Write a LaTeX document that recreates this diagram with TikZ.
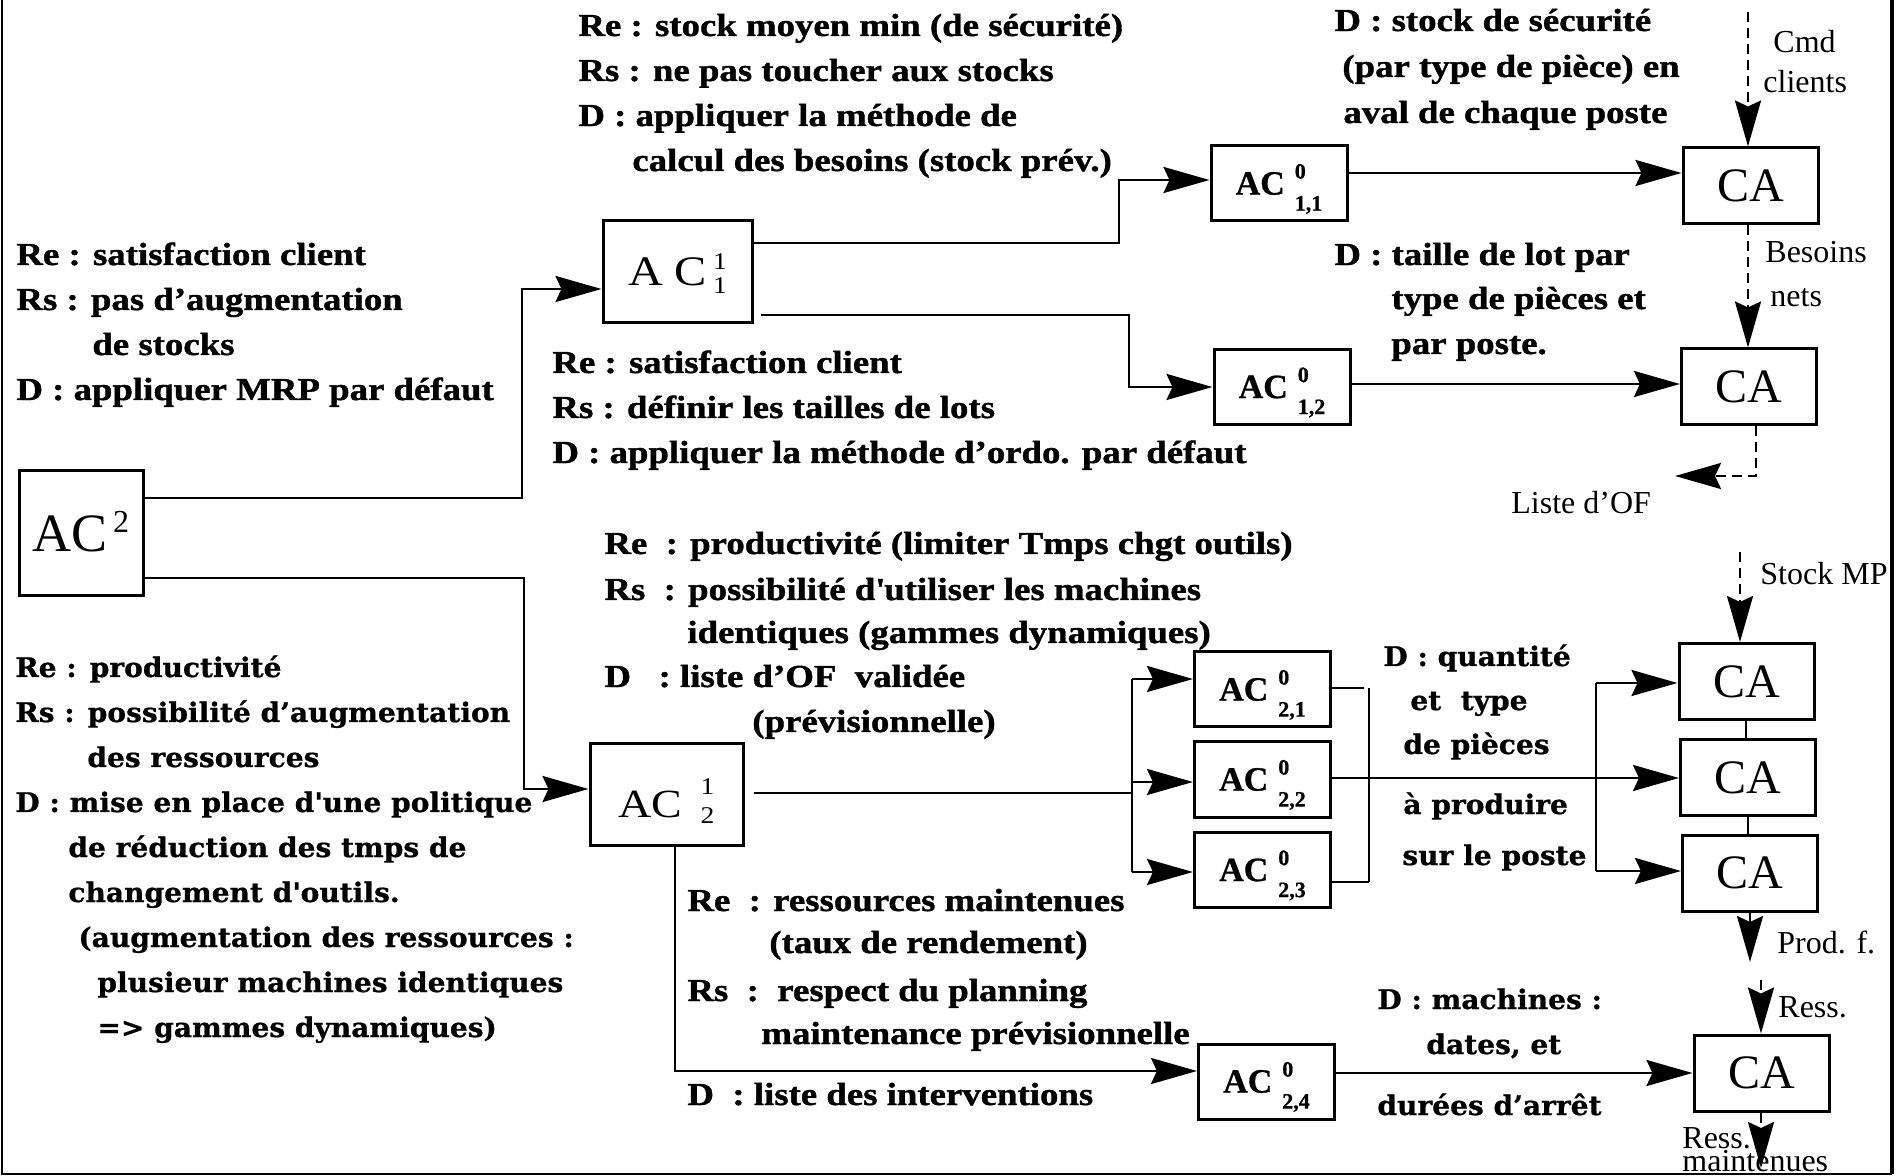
\documentclass[tikz,border=0pt]{standalone}
\usepackage{fontspec}
\setmainfont{Liberation Serif}
\newfontfamily\timesw[FakeStretch=1.15,BoldFeatures={FakeBold=1.2}]{Liberation Serif}
\newfontfamily\schfont[FakeStretch=1.04,BoldFeatures={FakeBold=0.8}]{DejaVu Serif}
\newfontfamily\timesb[BoldFeatures={FakeBold=0.8}]{Liberation Serif}
\usetikzlibrary{arrows.meta}
\newcommand\stk[5]{{\fontsize{#5}{#5}\selectfont\rlap{\raisebox{#3}{#1}}\raisebox{#4}{#2}}}
\newcommand\scr[2]{{\fontsize{11}{11}\selectfont\rlap{\raisebox{8pt}{#1}}\raisebox{-8pt}{#2}}}
\begin{document}
\begin{tikzpicture}[x=0.5pt,y=-0.5pt,
  box/.style={draw, line width=1.5pt, inner sep=0pt, align=center},
  acbox/.style={box, minimum width=68pt, minimum height=37.5pt, font=\timesb\bfseries\fontsize{17}{18}\selectfont},
  cabox/.style={box, minimum width=67.5pt, minimum height=38pt, font=\fontsize{24}{26}\selectfont},
  ln/.style={line width=1.4pt},
  arr/.style={ln, -{Stealth[length=23pt,width=13pt,inset=3pt]}},
  dsh/.style={arr, dash pattern=on 5pt off 3pt},
  tw/.style={anchor=base west, inner sep=0pt, font=\timesw\bfseries\fontsize{16}{18}\selectfont},
  sc/.style={anchor=base west, inner sep=0pt, font=\schfont\bfseries\fontsize{13.5}{15}\selectfont},
  lb/.style={anchor=base west, inner sep=0pt, font=\fontsize{16}{18}\selectfont}]
\useasboundingbox (0,0) rectangle (1903,1176);
% frame
\draw[line width=0.8pt] (2,0) -- (2,1174) -- (1892,1174);
\draw[line width=1.6pt] (1892,0) -- (1892,1174);
% boxes
\node[box, minimum width=62pt, minimum height=62.5pt, font=\fontsize{27}{28}\selectfont] (ac2) at (81,533.5) {AC\smash{\raisebox{9.5pt}{\fontsize{16}{16}\selectfont\,2}}};
\node[box, minimum width=74.5pt, minimum height=51pt, font=\timesw\fontsize{21}{22}\selectfont] (ac11) at (677.5,272) {A C\hspace{3pt}\smash{\stk{1}{1}{8pt}{-4pt}{12}}};
\node[box, minimum width=76.5pt, minimum height=50.5pt, text height=23pt, text depth=0pt, font=\timesw\fontsize{20}{22}\selectfont] (ac21) at (666.5,794.5) {AC\hspace{9pt}\smash{\stk{1}{2}{11.5pt}{-3pt}{12}}};
\node[acbox] (ac011) at (1279,183.5) {AC\hspace{5pt}\smash{\scr{0}{1,1}}};
\node[acbox] (ac012) at (1282,387) {AC\hspace{5pt}\smash{\scr{0}{1,2}}};
\node[acbox] (ac021) at (1262.5,689.5) {AC\hspace{5pt}\smash{\scr{0}{2,1}}};
\node[acbox] (ac022) at (1262.5,779.5) {AC\hspace{5pt}\smash{\scr{0}{2,2}}};
\node[acbox] (ac023) at (1262.5,870) {AC\hspace{5pt}\smash{\scr{0}{2,3}}};
\node[acbox] (ac024) at (1266.5,1081.5) {AC\hspace{5pt}\smash{\scr{0}{2,4}}};
\node[cabox] (ca1) at (1750.5,186) {CA};
\node[cabox] (ca2) at (1749,387) {CA};
\node[cabox] (ca3a) at (1746.5,681.5) {CA};
\node[cabox] (ca3b) at (1748,777.5) {CA};
\node[cabox] (ca3c) at (1750,873) {CA};
\node[cabox] (cab) at (1761.5,1073) {CA};
% free ends
\coordinate (cmd) at (1748,12);
\coordinate (of) at (1675,476);
\coordinate (smp) at (1740,552);
\coordinate (prodf) at (1750,962);
\coordinate (ress) at (1761,980);
\coordinate (rmaint) at (1761,1168);
% connectors
\draw[arr] (ac2.east |- 0,498) -- (522,498) -- (522,289) -- (ac11.west |- 0,289);
\draw[arr] (ac2.east |- 0,578) -- (524,578) -- (524,789) -- (ac21.west |- 0,789);
\draw[arr] (ac11.east |- 0,243) -- (1119,243) -- (1119,180) -- (ac011.west |- 0,180);
\draw[arr, shorten <=3.5pt] (ac11.east |- 0,315) -- (1129,315) -- (1129,387) -- (ac012.west |- 0,387);
\draw[arr] (ac011.east |- 0,173) -- (ca1.west |- 0,173);
\draw[arr] (ac012.east |- 0,384) -- (ca2.west |- 0,384);
\draw[dsh] (cmd) -- (cmd |- ca1.north);
\draw[dsh] (ca1.south -| cmd) -- (ca2.north -| cmd);
\draw[dsh] (ca2.south -| 1756,0) -- (1756,476) -- (of);
% lower part
\draw[ln, shorten <=4.5pt] (ac21.east |- 0,793) -- (1132,793);
\draw[ln] (1132,679) -- (1132,872);
\draw[arr] (1132,679) -- (ac021.west |- 0,679);
\draw[arr] (1132,782) -- (ac022.west |- 0,782);
\draw[arr] (1132,872) -- (ac023.west |- 0,872);
\draw[ln] (ac021.east |- 0,688) -- (1364,688);
\draw[ln] (1369,688) -- (1369,882);
\draw[ln] (ac023.east |- 0,882) -- (1369,882);
\draw[arr] (ac022.east |- 0,778) -- (ca3b.west |- 0,778);
\draw[ln] (1596,683) -- (1596,871);
\draw[arr] (1596,683) -- (ca3a.west |- 0,683);
\draw[arr] (1596,871) -- (ca3c.west |- 0,871);
\draw[ln] (ca3a.south -| 1746,0) -- (ca3b.north -| 1746,0);
\draw[ln] (ca3b.south -| 1748,0) -- (ca3c.north -| 1748,0);
\draw[dsh] (smp) -- (smp |- ca3a.north);
\draw[arr] (ca3c.south -| prodf) -- (prodf);
\draw[dsh] (ress) -- (ress |- cab.north);
\draw[dsh] (cab.south -| rmaint) -- (rmaint);
\draw[arr] (ac21.south -| 675,0) -- (675,1071) -- (ac024.west |- 0,1071);
\draw[arr] (ac024.east |- 0,1073) -- (cab.west |- 0,1073);
% small labels
\node[lb] (lcmd) at (1773,53) {Cmd};
\node[lb] (lcli) at (1763,93) {clients};
\node[lb] (lbes) at (1765,263) {Besoins};
\node[lb] (lnets) at (1770,307) {nets};
\node[lb] (lof) at (1511,514) {Liste d’OF};
\node[lb] (lsmp) at (1760,585) {Stock MP};
\node[lb] (lprod) at (1777,953) {Prod. f.};
\node[lb] (lress) at (1778,1017) {Ress.};
\node[lb] (lress2) at (1682,1148) {Ress.};
\node[lb] (lmaint) at (1682,1171) {maintenues};
% top block
\node[tw] (a1) at (578,36) {Re : stock moyen min (de sécurité)};
\node[tw] (a2) at (578,81) {Rs : ne pas toucher aux stocks};
\node[tw] (a3) at (578,126) {D : appliquer la méthode de};
\node[tw] (a4) at (632,171) {calcul des besoins (stock prév.)};
% left top block
\node[tw] (b1) at (16,265) {Re : satisfaction client};
\node[tw] (b2) at (16,310) {Rs : pas d’augmentation};
\node[tw] (b3) at (92,355) {de stocks};
\node[tw] (b4) at (16,400) {D : appliquer MRP par défaut};
% middle block
\node[tw] (c1) at (552,373) {Re : satisfaction client};
\node[tw] (c2) at (552,418) {Rs : définir les tailles de lots};
\node[tw] (c3) at (552,463) {D : appliquer la méthode d’ordo. par défaut};
% top right
\node[tw] (d1) at (1334,31) {D : stock de sécurité};
\node[tw] (d2) at (1342,77) {(par type de pièce) en};
\node[tw] (d3) at (1343,123) {aval de chaque poste};
\node[tw] (e1) at (1334,265) {D : taille de lot par};
\node[tw] (e2) at (1391,309) {type de pièces et};
\node[tw] (e3) at (1391,354) {par poste.};
% lower middle
\node[tw] (f1) at (604,554) {Re\ \ : productivité (limiter Tmps chgt outils)};
\node[tw] (f2) at (604,600) {Rs\ \ : possibilité d\textquotesingle utiliser les machines};
\node[tw] (f3) at (687,643) {identiques (gammes dynamiques)};
\node[tw] (f4) at (604,687) {D\ \ \ : liste d’OF\ \ validée};
\node[tw] (f5) at (752,732) {(prévisionnelle)};
% bottom middle
\node[tw] (g1) at (687,911) {Re\ \ : ressources maintenues};
\node[tw] (g2) at (769,953) {(taux de rendement)};
\node[tw] (g3) at (687,1001) {Rs\ \ :\ \ respect du planning};
\node[tw] (g4) at (761,1044) {maintenance prévisionnelle};
\node[tw] (g5) at (687,1105) {D\ \ : liste des interventions};
% left lower block
\node[sc] (h1) at (15,677) {Re : productivité};
\node[sc] (h2) at (15,722) {Rs : possibilité d’augmentation};
\node[sc] (h3) at (87,767) {des ressources};
\node[sc] (h4) at (15,812) {D : mise en place d\textquotesingle une politique};
\node[sc] (h5) at (68,857) {de réduction des tmps de};
\node[sc] (h6) at (68,902) {changement d\textquotesingle outils.};
\node[sc] (h7) at (78,947) {(augmentation des ressources :};
\node[sc] (h8) at (97,992) {plusieur machines identiques};
\node[sc] (h9) at (97,1037) {=> gammes dynamiques)};
% right schoolbook
\node[sc] (k1) at (1383,666) {D : quantité};
\node[sc] (k2) at (1410,710) {et\ \ type};
\node[sc] (k3) at (1403,754) {de pièces};
\node[sc] (k4) at (1403,814) {à produire};
\node[sc] (k5) at (1402,865) {sur le poste};
\node[sc] (m1) at (1377,1009) {D : machines :};
\node[sc] (m2) at (1426,1054) {dates, et};
\node[sc] (m3) at (1377,1115) {durées d’arrêt};
\end{tikzpicture}
\end{document}
